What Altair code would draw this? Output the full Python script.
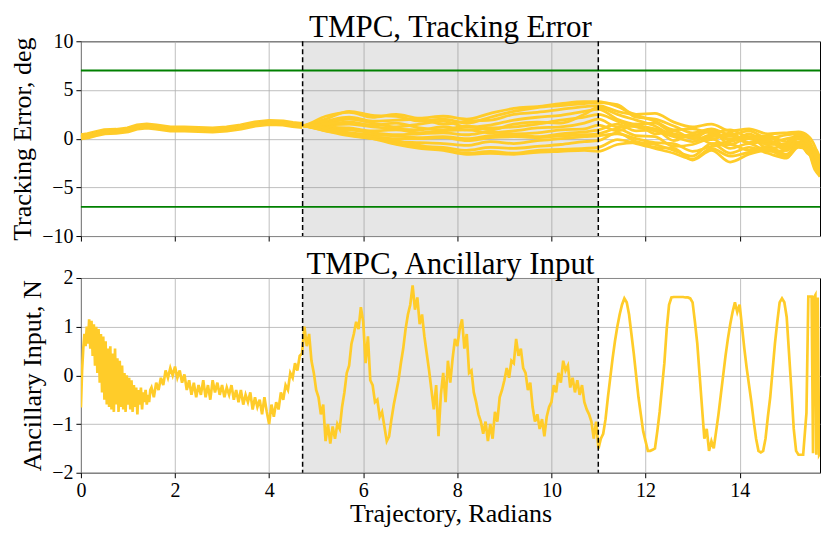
import altair as alt
import pandas as pd

YEL = "#FFCC29"
FONT = "Liberation Serif"

# ---------------- top panel: tracking error (deg) ----------------
# common (overlapping) part of all runs, before the disturbance window
CX = [0, 0.15, 0.3, 0.5, 0.75, 1.0, 1.2, 1.4, 1.6, 1.9, 2.2, 2.5, 2.8, 3.1, 3.4, 3.7, 4.0, 4.3, 4.5, 4.71]
CY = [0.2, 0.3, 0.5, 0.7, 0.75, 0.9, 1.2, 1.3, 1.2, 1.0, 1.0, 0.95, 0.9, 1.0, 1.2, 1.5, 1.65, 1.6, 1.45, 1.35]

# knots of the individual runs after divergence
KX = [4.71, 5.2, 5.7, 6.2, 6.7, 7.2, 7.7, 8.2, 8.7, 9.2, 9.7, 10.2, 10.7, 11.0,
      11.4, 11.8, 12.2, 12.6, 13.0, 13.4, 13.8, 14.2, 14.6, 15.0, 15.25, 15.45, 15.6, 15.708]
T01 = [1.35, 2.3, 2.7, 2.2, 2.5, 2.1, 2.3, 2.0, 2.6, 3.1, 3.3, 3.6, 3.8, 3.8, 3.3, 2.5, 2.6, 1.7, 1.2, 1.5, 0.8, 1.0, 0.5, 0.6, 0.7, 0.3, -0.8, -2.5]
T02 = [1.35, 2.0, 2.8, 2.4, 2.3, 1.8, 2.0, 1.6, 2.2, 2.8, 3.2, 3.4, 3.6, 3.7, 3.5, 2.2, 2.0, 1.3, 0.6, 1.0, 0.4, 0.8, 0.0, 0.4, 0.5, 0.0, -1.5, -3.0]
T03 = [1.35, 1.8, 2.2, 1.8, 1.9, 2.0, 1.5, 1.8, 1.9, 2.5, 2.7, 3.0, 3.3, 3.4, 2.8, 2.4, 1.8, 0.9, 1.0, 0.6, 0.9, 0.2, 0.3, -0.3, 0.4, -0.5, -2.0, -3.5]
T04 = [1.35, 1.6, 2.0, 1.6, 1.2, 1.5, 1.8, 1.2, 1.4, 1.9, 2.2, 2.4, 2.8, 3.0, 2.0, 1.5, 1.6, 0.5, 0.3, 0.9, -0.2, 0.5, -0.4, 0.0, 0.2, -0.8, -1.2, -2.8]
T05 = [1.35, 1.4, 1.5, 1.2, 1.0, 0.9, 1.2, 0.9, 1.1, 1.2, 1.5, 1.9, 2.2, 2.5, 1.8, 1.2, 0.8, 0.2, -0.3, 0.4, 0.0, 0.0, -0.6, -0.5, 0.3, -1.0, -2.5, -3.8]
T06 = [1.35, 1.2, 1.1, 0.8, 0.9, 0.6, 0.8, 0.9, 0.6, 0.8, 1.1, 1.2, 1.6, 2.0, 1.2, 1.3, 1.0, 0.4, 0.2, -0.1, 0.6, -0.4, 0.2, -0.8, 0.0, -0.2, -1.8, -3.2]
T07 = [1.35, 1.0, 0.9, 0.6, 0.4, 0.5, 0.6, 0.4, 0.7, 0.5, 0.6, 0.9, 1.0, 1.4, 0.8, 1.5, 0.5, 0.8, 0.0, 0.2, 0.3, -0.5, -0.2, -1.0, -0.3, -0.8, -2.2, -3.7]
T08 = [1.35, 0.9, 0.6, 0.4, 0.3, 0.1, 0.2, 0.0, 0.3, 0.4, 0.2, 0.5, 0.7, 0.9, 1.5, 0.8, 0.9, -0.2, 0.5, -0.5, -0.3, 0.2, -1.0, -0.6, 0.1, -1.5, -1.0, -2.0]
T09 = [1.35, 0.8, 0.5, 0.2, 0.0, 0.0, 0.1, -0.2, 0.1, 0.2, 0.1, 0.3, 0.4, 0.5, 1.0, 0.3, 0.2, -0.8, -0.6, 0.0, -1.0, -0.5, -1.3, -1.2, -0.4, -0.6, -2.8, -3.3]
T10 = [1.35, 0.9, 0.4, 0.0, -0.3, -0.4, -0.5, -0.7, -0.3, -0.5, -0.2, 0.0, 0.2, 0.3, 0.5, 0.0, -0.4, -0.5, -1.3, -0.8, -0.6, -1.2, -0.8, -1.6, -0.5, -1.0, -3.0, -3.9]
T11 = [1.35, 1.1, 0.6, 0.1, -0.5, -0.8, -0.9, -1.2, -0.9, -1.0, -0.8, -0.6, -0.3, -0.2, 0.6, -0.3, -0.6, -1.2, -1.8, -0.5, -1.5, -0.9, -1.5, -2.0, -0.6, -1.5, -2.4, -3.6]
T12 = [1.35, 1.0, 0.5, 0.2, -0.2, -0.7, -1.1, -1.5, -1.3, -1.5, -1.2, -1.1, -1.0, -0.9, -0.1, -0.5, -1.0, -1.5, -2.1, -1.0, -1.8, -1.4, -1.0, -1.8, -0.7, -1.2, -3.2, -3.8]
T13 = [1.35, 0.8, 0.3, 0.0, -0.6, -1.0, -1.2, -1.6, -1.5, -1.6, -1.4, -1.3, -1.2, -1.3, -0.6, -0.4, -0.9, -1.0, -2.2, -1.2, -2.4, -1.6, -1.2, -1.9, -0.9, -1.1, -2.6, -3.4]
T14 = [1.35, 1.5, 1.7, 1.4, 1.6, 1.1, 0.9, 1.3, 0.9, 1.5, 1.7, 1.6, 2.5, 3.2, 2.5, 1.9, 1.3, 0.3, 0.1, 0.8, -0.6, 0.1, -0.1, -1.2, 0.1, -0.3, -1.5, -3.0]
RUNS = [T01, T02, T03, T04, T05, T06, T07, T08, T09, T10, T11, T12, T13, T14]

LIMITS = [7, -7]                 # tracking error bounds (deg)
WINDOW = [4.712, 10.996]         # disturbance window (rad)

# ---------------- bottom panel: ancillary input (N) ----------------
# x = 0 .. 1.475, every 0.025 rad (very noisy start)
HEAD_STEP = 0.025
U_HEAD = [-0.66, 0.10, 0.55, 0.85, 0.60, 1.00, 0.65, 1.15, 0.55, 1.12,
          0.40, 1.05, 0.20, 1.00, 0.05, 0.95, -0.15, 0.85, -0.35, 0.80,
          -0.50, 0.70, -0.60, 0.55, -0.65, 0.60, -0.70, 0.45, -0.75, 0.55,
          -0.60, 0.35, -0.75, 0.30, -0.65, 0.20, -0.70, 0.05, -0.75, 0.00,
          -0.60, -0.05, -0.70, -0.10, -0.75, -0.20, -0.65, -0.25, -0.80, -0.30,
          -0.60, -0.25, -0.70, -0.35, -0.55, -0.30, -0.60, -0.40, -0.55, -0.30]
# x = 1.5 .. 14.95, every 0.05 rad
BODY_START = 1.5
STEP = 0.05
U01 = [-0.25, -0.45, -0.15, -0.30, -0.05, -0.20, 0.10, -0.05, 0.15, 0.00]
U02 = [0.18, -0.05, 0.10, -0.15, 0.02, -0.30, -0.10, -0.40, -0.15, -0.45, -0.20, -0.40, -0.10, -0.45, -0.20, -0.50, -0.10, -0.35, -0.15, -0.40]
U03 = [-0.20, -0.45, -0.25, -0.40, -0.20, -0.50, -0.30, -0.55, -0.30, -0.60, -0.40, -0.55, -0.35, -0.70, -0.45, -0.65, -0.50, -0.80, -0.45, -0.75]
U04 = [-1.00, -0.60, -0.85, -0.55, -0.70, -0.35, -0.50, -0.20, -0.30, 0.05, -0.05, 0.25, 0.10, 0.40, 0.45, 1.00, 0.60, 0.85, 0.30, 0.05]
U05 = [-0.30, -0.45, -0.80, -0.60, -1.35, -1.00, -1.40, -1.05, -1.30, -1.00, -1.10, -0.65, -0.35, 0.05, 0.20, 0.65, 0.85, 1.10, 0.95, 1.40]
U06 = [1.10, 0.25, 0.80, -0.10, -0.20, -0.55, -0.50, -0.85, -0.75, -1.05, -1.35, -1.25, -0.90, -0.60, -0.35, -0.10, 0.25, 0.55, 0.95, 1.25]
U07 = [1.45, 1.85, 1.35, 1.60, 1.05, 1.25, 0.80, 0.45, 0.10, -0.30, -0.70, -0.20, -1.25, -0.40, 0.05, -0.55, 0.30, -0.15, 0.35, 0.75]
U08 = [0.60, 0.95, 1.15, 0.55, 0.85, 0.05, 0.10, -0.35, -0.55, -0.80, -0.95, -1.20, -0.95, -1.35, -1.00, -1.30, -0.75, -0.95, -0.45, -0.30]
U09 = [-0.10, 0.15, -0.05, 0.30, 0.25, 0.75, 0.40, 0.55, 0.15, 0.05, -0.30, -0.15, -0.65, -0.95, -0.80, -1.10, -0.90, -1.25, -0.85, -0.65]
U10 = [-0.55, -0.20, -0.35, 0.05, -0.15, 0.30, 0.10, 0.20, -0.25, -0.05, -0.35, -0.10, -0.40, -0.20, -0.55, -0.70, -0.80, -0.95, -1.30, -0.95]
U11 = [-1.50, -1.30, -1.20, -0.90, -0.45, -0.05, 0.35, 0.70, 1.00, 1.25, 1.45, 1.58, 1.50, 1.25, 0.85, 0.45, 0.00, -0.45, -0.80, -1.15]
U12 = [-1.35, -1.55, -1.55, -1.53, -1.50, -1.15, -0.75, -0.25, 0.25, 0.95, 1.45, 1.60, 1.61, 1.61, 1.61, 1.61, 1.61, 1.60, 1.60, 1.58]
U13 = [1.50, 1.10, 0.65, 0.00, -0.65, -1.30, -1.10, -1.55, -1.35, -1.50, -1.15, -0.80, -0.40, 0.00, 0.40, 0.75, 1.05, 1.30, 1.50, 1.30]
U14 = [1.45, 1.00, 0.55, 0.15, -0.20, -0.55, -0.95, -1.30, -1.55, -1.58, -1.55, -1.30, -0.85, -0.45, 0.10, 0.65, 1.10, 1.50, 1.58, 1.50]
# x = 15.0 .. end, hand-placed samples
TAIL_X = [15.0, 15.05, 15.1, 15.15, 15.2, 15.25, 15.3, 15.35, 15.42, 15.46, 15.53, 15.56, 15.58, 15.61, 15.63, 15.66, 15.69, 15.708]
TAIL_Y = [1.20, 0.45, -0.30, -1.10, -1.55, -1.63, -1.63, -1.63, -0.77, 1.62, 1.62, -1.60, 1.60, 1.65, -1.63, 1.60, -1.63, -1.60]

XT = [0, 2, 4, 6, 8, 10, 12, 14]

# ---------------- tables ----------------
common_df = pd.DataFrame({"x": CX, "y": CY})
rows = []
for i, r in enumerate(RUNS):
    for xv, yv in zip(CX + KX[1:], CY + r[1:]):
        rows.append({"run": i, "x": xv, "y": yv})
runs_df = pd.DataFrame(rows)

body = U01 + U02 + U03 + U04 + U05 + U06 + U07 + U08 + U09 + U10 + U11 + U12 + U13 + U14
u_x = ([round(i * HEAD_STEP, 3) for i in range(len(U_HEAD))]
       + [round(BODY_START + i * STEP, 3) for i in range(len(body))] + TAIL_X)
u_df = pd.DataFrame({"x": u_x, "y": U_HEAD + body + TAIL_Y})

win_df = pd.DataFrame({"x": [WINDOW[0]], "x2": [WINDOW[1]]})
vl_df = pd.DataFrame({"x": WINDOW})
lim_df = pd.DataFrame({"y": LIMITS})

xscale = alt.Scale(domain=[0, 15.708], nice=False, zero=False)


def xenc(labels, title=None):
    if title:
        ax = alt.Axis(values=XT, labels=labels, title=title, format="d", labelFlush=False,
                      labelFont=FONT, titleFont=FONT, titlePadding=0)
    else:
        ax = alt.Axis(values=XT, labels=labels, title=None, format="d", labelFont=FONT,
                      labelFlush=False)
    return alt.X("x:Q", scale=xscale, axis=ax)


def panel(ydomain, yvals, ytitle, title, lines, labels, xtitle=None):
    yscale = alt.Scale(domain=ydomain, nice=False, zero=False)
    shade = alt.Chart(win_df).mark_rect(color="gray", opacity=0.2).encode(
        x=xenc(labels, xtitle), x2="x2:Q")
    vlines = alt.Chart(vl_df).mark_rule(color="black", strokeDash=[5, 3], strokeWidth=1.5).encode(
        x="x:Q")
    layers = [shade] + lines(yscale, yvals, ytitle) + [vlines]
    return alt.layer(*layers).properties(
        width=740, height=195,
        title=alt.TitleParams(title, fontSize=31, font=FONT, fontWeight="normal", color="black",
                              offset=-13))


def yaxis(yvals, ytitle):
    return alt.Axis(values=yvals, title=ytitle, format="d", labelFont=FONT, titleFont=FONT)


def top_lines(yscale, yvals, ytitle):
    yax = yaxis(yvals, ytitle)
    band = alt.Chart(common_df).mark_line(color=YEL, strokeWidth=7, clip=True).encode(
        x="x:Q", y=alt.Y("y:Q", scale=yscale, axis=yax))
    lines = alt.Chart(runs_df).mark_line(color=YEL, strokeWidth=2.8, interpolate="monotone",
                                         clip=True).encode(
        x="x:Q", y=alt.Y("y:Q", scale=yscale, axis=yax), detail="run:N")
    lims = alt.Chart(lim_df).mark_rule(color="#008000", strokeWidth=1.8).encode(y="y:Q")
    return [band, lines, lims]


def bottom_lines(yscale, yvals, ytitle):
    yax = yaxis(yvals, ytitle)
    line = alt.Chart(u_df).mark_line(color=YEL, strokeWidth=2.7, clip=True).encode(
        x="x:Q", y=alt.Y("y:Q", scale=yscale, axis=yax))
    return [line]


top = panel([-10, 10], [-10, -5, 0, 5, 10], "Tracking Error, deg", "TMPC, Tracking Error",
            top_lines, False)
bottom = panel([-2, 2], [-2, -1, 0, 1, 2], "Ancillary Input, N", "TMPC, Ancillary Input",
               bottom_lines, True, "Trajectory, Radians")

chart = alt.vconcat(top, bottom, spacing=1).properties(
    padding={"left": 1, "top": 3, "right": 0, "bottom": 0}
).configure(font=FONT).configure_view(stroke="black", strokeWidth=1).configure_axis(
    labelFont=FONT, titleFont=FONT, labelFontSize=20, titleFontSize=26,
    labelColor="black", titleColor="black", titleFontWeight="normal",
    tickColor="black", tickSize=5, labelPadding=3, titlePadding=6,
    domain=False, gridColor="#b0b0b0", gridWidth=0.8
)

chart.save("out.html", embed_options={"renderer": "svg", "actions": False})
